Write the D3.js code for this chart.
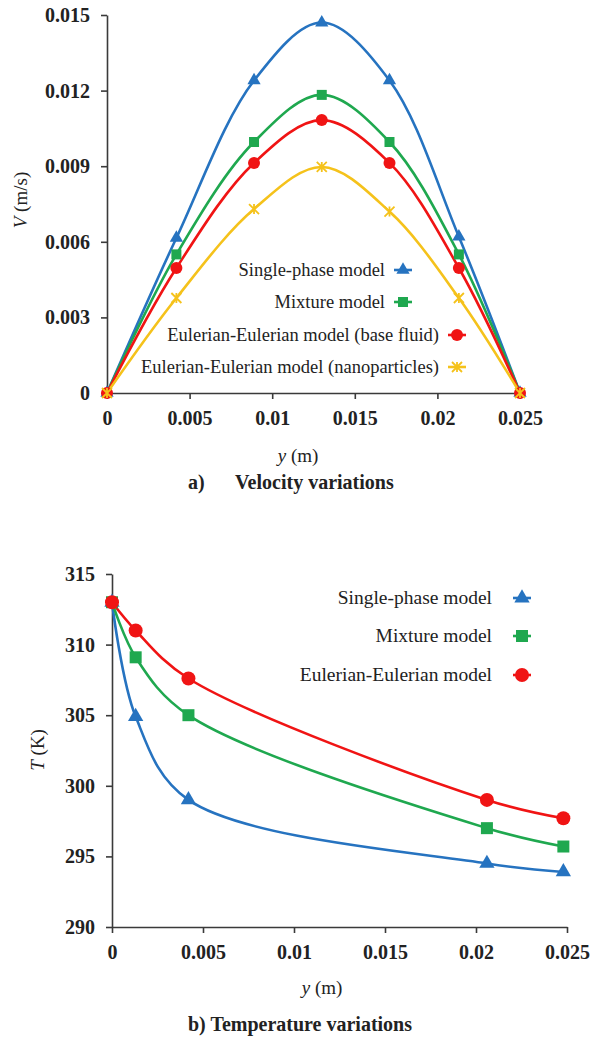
<!DOCTYPE html>
<html lang="en">
<head>
  <meta charset="UTF-8">
  <title>Velocity and temperature variations</title>
  <style>
    body { margin: 0; background: #fff; }
    svg { display: block; }
    .axis path, .axis line { stroke: #3a3a3a; stroke-width: 1.6px; }
  </style>
</head>
<body>
  <svg id="chart" width="592" height="1039"></svg>
  <script src="https://d3js.org/d3.v7.min.js"></script>
  <script>
    // ---- a) velocity data ----
    const vPos = [0, 0.0042, 0.0089, 0.013, 0.0171, 0.0213, 0.025];
    const vSingle = [0, 0.00615, 0.0124, 0.0147, 0.0124, 0.0062, 0];
    const vMixture = [0, 0.0055, 0.00996, 0.01183, 0.00996, 0.0055, 0];
    const vBase = [0, 0.00496, 0.00913, 0.01083, 0.00913, 0.00496, 0];
    const vNano = [0, 0.00377, 0.0073, 0.00897, 0.0072, 0.00377, 0];
    const vTicks = [0, 0.003, 0.006, 0.009, 0.012, 0.015];
    const vTickLabels = ["0", "0.003", "0.006", "0.009", "0.012", "0.015"];

    // ---- b) temperature data ----
    const tPos = [0, 0.0013, 0.0042, 0.0206, 0.0248];
    const tSingle = [313, 304.9, 299.0, 294.5, 293.9];
    const tMixture = [313, 309.1, 305.0, 297.0, 295.7];
    const tEuler = [313, 311.0, 307.6, 299.0, 297.7];
    const tTicks = [290, 295, 300, 305, 310, 315];
    const tTickLabels = ["290", "295", "300", "305", "310", "315"];

    const xTicks = [0, 0.005, 0.01, 0.015, 0.02, 0.025];
    const xTickLabels = ["0", "0.005", "0.01", "0.015", "0.02", "0.025"];

    const colors = { blue: "#2673c0", green: "#1fa84f", red: "#f01414", yellow: "#f5c21b" };
    const serif = '"Liberation Serif"';
    const ink = "#222";

    const svg = d3.select("#chart");
    svg.append("rect").attr("width", 592).attr("height", 1039).attr("fill", "#fff");

    function marker(g, type, color, size) {
      if (type === "triangle") {
        g.append("path")
          .attr("d", d3.symbol(d3.symbolTriangle, size * size * 0.45)())
          .attr("fill", color);
      } else if (type === "square") {
        g.append("rect").attr("x", -size / 2).attr("y", -size / 2)
          .attr("width", size).attr("height", size).attr("fill", color);
      } else if (type === "circle") {
        g.append("circle").attr("r", size / 2).attr("fill", color);
      } else if (type === "star") {
        const r = size / 2;
        g.append("path")
          .attr("d", `M${-r},${-r}L${r},${r}M${-r},${r}L${r},${-r}M0,${-r}L0,${r}`)
          .attr("stroke", color).attr("stroke-width", 1.8).attr("fill", "none");
      }
    }

    function styleText(sel, size, weight) {
      sel.style("font-family", serif)
        .style("font-size", size + "px")
        .style("font-weight", weight || "normal")
        .style("fill", ink);
    }

    function drawChart(cfg) {
      const x = d3.scaleLinear().domain([0, 0.025]).range(cfg.xRange);
      const y = d3.scaleLinear().domain(cfg.yDomain).range(cfg.yRange);
      const g = svg.append("g");

      g.append("g").attr("class", "axis")
        .attr("transform", `translate(0,${cfg.yRange[0]})`)
        .call(d3.axisBottom(x).tickValues(xTicks).tickSize(6).tickSizeOuter(0).tickPadding(12)
          .tickFormat((d, i) => xTickLabels[i]));

      g.append("g").attr("class", "axis")
        .attr("transform", `translate(${cfg.xRange[0]},0)`)
        .call(d3.axisLeft(y).tickValues(cfg.yTicks).tickSize(6).tickSizeOuter(0).tickPadding(11)
          .tickFormat((d, i) => cfg.yTickLabels[i]));

      styleText(g.selectAll(".tick text"), 20, "bold");
      g.selectAll(".domain").attr("stroke", "#3a3a3a");

      const line = d3.line()
        .x((d, i) => x(cfg.pos[i]))
        .y(d => y(d))
        .curve(d3.curveCatmullRom.alpha(0.5));

      cfg.series.forEach(s => {
        g.append("path").attr("d", line(s.values))
          .attr("fill", "none").attr("stroke", s.color).attr("stroke-width", 2.6);
      });
      cfg.series.forEach(s => {
        s.values.forEach((v, i) => {
          const m = g.append("g").attr("transform", `translate(${x(cfg.pos[i])},${y(v)})`);
          marker(m, s.marker, s.color, s.size);
        });
      });

      // legend: right-aligned text, marker on a short line
      const lg = g.append("g").attr("class", "legend");
      const L = cfg.legend;
      cfg.series.forEach((s, i) => {
        const ly = L.y[i];
        const lx = L.x[i];
        lg.append("text").attr("x", lx - L.gap).attr("y", ly).attr("dy", "0.3em")
          .attr("text-anchor", "end").text(s.name)
          .call(styleText, L.size);
        lg.append("line").attr("x1", lx - 9).attr("x2", lx + 9)
          .attr("y1", ly).attr("y2", ly).attr("stroke", s.color).attr("stroke-width", 2.6);
        const m = lg.append("g").attr("transform", `translate(${lx},${ly})`);
        marker(m, s.marker, s.color, s.size);
      });

      // axis titles
      g.append("text")
        .attr("transform", `translate(${cfg.yTitle[0]},${cfg.yTitle[1]}) rotate(-90)`)
        .attr("text-anchor", "middle").attr("dy", "0.35em")
        .call(styleText, 19)
        .call(t => {
          t.append("tspan").style("font-style", "italic").text(cfg.yTitleVar);
          t.append("tspan").text(" " + cfg.yTitleUnit);
        });
      g.append("text")
        .attr("x", cfg.xTitle[0]).attr("y", cfg.xTitle[1])
        .attr("text-anchor", "middle").attr("dy", "0.35em")
        .call(styleText, 19)
        .call(t => {
          t.append("tspan").style("font-style", "italic").text("y");
          t.append("tspan").text(" (m)");
        });

      cfg.title.parts.forEach(p => {
        g.append("text")
          .attr("x", p.x).attr("y", cfg.title.y).attr("dy", "0.35em")
          .attr("text-anchor", p.anchor)
          .call(styleText, 20, "bold")
          .text(p.text);
      });
    }

    drawChart({
      xRange: [107, 520],
      yDomain: [0, 0.015],
      yRange: [393, 15],
      yTicks: vTicks,
      yTickLabels: vTickLabels,
      pos: vPos,
      series: [
        { name: "Single-phase model", values: vSingle, color: colors.blue, marker: "triangle", size: 13 },
        { name: "Mixture model", values: vMixture, color: colors.green, marker: "square", size: 10 },
        { name: "Eulerian-Eulerian model (base fluid)", values: vBase, color: colors.red, marker: "circle", size: 12 },
        { name: "Eulerian-Eulerian model (nanoparticles)", values: vNano, color: colors.yellow, marker: "star", size: 10 }
      ],
      legend: { x: [403, 403, 457, 457], y: [270, 302, 335, 367], gap: 18, size: 18.5 },
      yTitle: [20, 200],
      yTitleVar: "V",
      yTitleUnit: "(m/s)",
      xTitle: [298, 455],
      title: { y: 482, parts: [
        { x: 188, anchor: "start", text: "a)" },
        { x: 235, anchor: "start", text: "Velocity variations" }
      ] }
    });

    drawChart({
      xRange: [112, 567],
      yDomain: [290, 315],
      yRange: [927, 574],
      yTicks: tTicks,
      yTickLabels: tTickLabels,
      pos: tPos,
      series: [
        { name: "Single-phase model", values: tSingle, color: colors.blue, marker: "triangle", size: 15 },
        { name: "Mixture model", values: tMixture, color: colors.green, marker: "square", size: 12 },
        { name: "Eulerian-Eulerian model", values: tEuler, color: colors.red, marker: "circle", size: 14 }
      ],
      legend: { x: [522, 522, 522], y: [598, 636, 675], gap: 30, size: 19.5 },
      yTitle: [37, 750],
      yTitleVar: "T",
      yTitleUnit: "(K)",
      xTitle: [322, 987],
      title: { y: 1024, parts: [
        { x: 300, anchor: "middle", text: "b) Temperature variations" }
      ] }
    });
  </script>
</body>
</html>
